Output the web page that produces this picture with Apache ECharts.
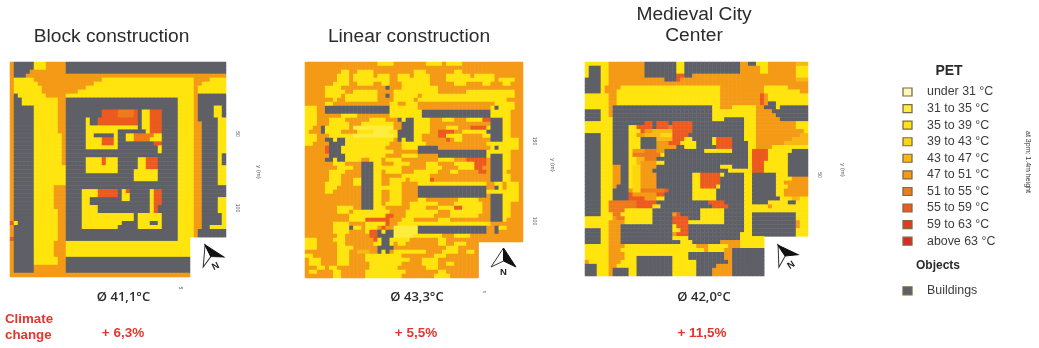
<!DOCTYPE html>
<html>
<head>
<meta charset="utf-8">
<style>html,body{margin:0;background:#fff}#main{width:1039px;height:348px}#main canvas{filter:blur(.5px)}</style>
<script src="https://cdn.jsdelivr.net/npm/echarts@6/dist/echarts.min.js"></script>
</head>
<body>
<div id="main"></div>
<script>
// PET classes: a..j in legend order, G = building, _ = no data.
// each row is a list of runs: class letter + column where the run ends
const classKeys = 'abcdefghijG';
const legendLabels = ['under 31 °C', '31 to 35 °C', '35 to 39 °C', '39 to 43 °C', '43 to 47 °C', '47 to 51 °C',
  '51 to 55 °C', '55 to 59 °C', '59 to 63 °C', 'above 63 °C', '', '', 'Buildings'];
const classColors = ['#fdf6c0', '#feec3e', '#ffe40e', '#fcd70f', '#f8b714', '#f49a17',
  '#ef7a1c', '#ec5a1f', '#e53a20', '#d92a25', '#5f6067'];
const mapTitles = ['Block construction', 'Linear construction', 'Medieval City\nCenter'];
const meanPet = ['Ø 41,1°C', 'Ø 43,3°C', 'Ø 42,0°C'];
const climateChange = ['+ 6,3%', '+ 5,5%', '+ 11,5%'];

const blockRows = [
  'f1 G6 c9 f14 G54',
  'f1 G6 c9 f14 G54',
  'f1 G5 f14 G54',
  'f1 G4 f54',
  'f1 c6 f23 c46 f50 c54',
  'f1 c7 f21 c46 f48 c54',
  'f1 c8 f19 c46 f47 c54',
  'f1 c8 f17 c46 f47 c54',
  'f1 G2 c9 f14 c46 f47 G54',
  'f1 G3 c12 f14 G42 c46 f47 G54',
  'f1 G3 c12 f14 G42 c46 f47 G54',
  'f1 G6 c12 f14 G42 c46 f47 G51 c53 G54',
  'f1 G6 c12 f14 G23 h27 g31 h32 G33 c35 h38 G42 c46 f47 G51 c53 G54',
  'f1 G6 c12 f14 G23 h27 g31 h32 G33 c35 h38 G42 c46 f47 G51 c53 G54',
  'f1 G6 c12 f14 G19 c20 G22 h32 G33 c35 h38 G42 c46 f47 G52 c54',
  'f1 G6 c12 f14 G19 c20 G22 h32 G33 c35 h38 G42 c46 f48 G52 c54',
  'f1 G6 c12 f14 G19 c32 G33 c35 h38 G42 c46 f48 G52 c54',
  'f1 G6 c12 f14 G19 c27 G34 c35 h38 G42 c46 f48 G52 c54',
  'f1 G6 c13 f14 G19 c21 G26 c27 G29 c31 g36 c38 G42 c46 f48 G52 c54',
  'f1 G6 c13 f14 G19 c23 h26 c27 G29 c31 g35 c38 G42 c46 f48 G52 c54',
  'f1 G6 c13 f14 G19 c23 h26 c27 G36 h38 G42 c46 f48 G52 c54',
  'f1 G6 c13 f14 G19 c27 G37 c38 G42 c46 f48 G52 c54',
  'f1 G6 c13 f14 G37 c38 G42 c46 f48 G52 c54',
  'f1 G6 c13 f14 G42 c46 f48 G52 c53 G54',
  'f1 G6 c13 f14 G19 c23 h24 c27 G32 c34 h37 G42 c46 f48 G52 c53 G54',
  'f1 G6 c13 f14 G19 c23 h24 c27 G32 c34 h37 G42 c46 f48 G52 c53 G54',
  'f1 G6 c14 G19 c27 G32 c34 h37 G42 c46 f48 G52 c54',
  'f1 G6 c14 G19 c27 G31 c37 G42 c46 f48 G52 c54',
  'f1 G6 c14 G31 c37 G42 c46 f48 G52 c54',
  'f1 G6 c14 G31 c37 G42 c46 f48 G52 c54',
  'f1 G6 c14 G42 c46 f48 G52 c54',
  'f1 G6 c11 f14 G42 c46 f48 G54',
  'f1 G6 c11 f14 G18 c22 h27 G28 c29 h30 G35 c36 h38 G42 c46 f48 G54',
  'f1 G6 c11 f14 G18 c22 h27 G28 c30 G35 c36 h38 G42 c46 f48 G54',
  'f1 G6 c11 f14 G18 c20 G28 c30 G35 c36 h38 G42 c46 f48 G52 c54',
  'f1 G6 c11 f14 G18 c20 G35 c36 h38 G42 c46 f48 G52 c54',
  'f1 G6 c11 f14 G18 c22 G35 c36 h37 G42 c46 f48 G52 c54',
  'f1 G6 c12 f14 G18 c22 G35 c36 h37 G42 c46 f48 G52 c54',
  'f1 G6 c12 f14 G18 c31 G32 c38 G42 c46 f48 G53 c54',
  'f1 G6 c12 f14 G18 c31 G32 c38 G42 c46 f48 G53 c54',
  'h1 c2 G6 c12 f14 G18 c28 G32 c35 G37 c38 G42 c46 f48 G53 c54',
  'f1 G6 c12 f14 G18 c27 G32 c38 G42 c46 f48 G50 c54',
  'f1 G6 c12 f14 G42 c46 f47 G54',
  'f1 G6 c12 f14 G42 c46 f47 G54',
  'h1 G6 c12 f14 G42 c45 _54',
  'f1 G6 c11 f14 c45 _54',
  'f1 G6 c11 f14 c45 _54',
  'f1 G6 c11 f14 c45 _54',
  'f1 G6 c11 f14 c45 _54',
  'f1 G6 c12 f14 G45 _54',
  'f1 G6 c12 f14 G45 _54',
  'f1 G6 f14 G45 _54',
  'f1 G6 f14 G45 _54',
  'f45 _54'
];

const linearRows = [
  'f18 c22 f30 c34 f35 c39 f54',
  'f54',
  'f9 c11 f13 c17 f27 c30 f37 c39 f54',
  'f8 c11 f12 c17 f18 c21 f23 c26 f27 c31 f35 c41 f42 c47 f54',
  'f8 c11 f12 c21 f23 c31 f35 c47 f48 c52 f54',
  'f7 c11 f13 c17 f19 c21 f24 c31 f37 c40 f44 c46 f49 c51 f54',
  'f5 c9 f20 G21 f24 c33 f54',
  'f5 c10 f12 c18 f22 c33 f40 c52 f54',
  'f5 c9 f10 c18 f20 G21 f22 c28 f29 c52 f54',
  'f7 c8 f10 c18 f22 c27 f28 c50 f54',
  'f5 c7 f21 c23 f25 c28 f47 c52 f54',
  'c3 f5 G21 c28 f46 c47 G48 c52 f54',
  'c3 f5 G21 c29 G46 c51 f54',
  'c3 f9 c13 f21 c29 G46 c51 f54',
  'c3 f6 c10 f16 c20 f23 G24 c25 G27 c31 f34 c37 f40 c44 h46 G49 c51 f54',
  'c3 f6 c11 f14 c22 f24 G27 c31 f46 G49 c51 f54',
  'c2 f4 G5 c11 f12 b22 f24 G27 c31 f35 c38 f41 h45 c46 G49 c51 f54',
  'c1 f4 G5 c9 f13 c17 b21 c23 G27 c31 f33 h37 f39 c45 G49 c51 f54',
  'c3 f6 c12 b22 c23 G27 c29 f33 h35 c39 f44 c46 G49 c51 f54',
  'c3 f5 G7 c8 G10 c22 f23 G24 c25 G27 c29 f35 h36 f37 c39 f46 G49 c53 f54',
  'c2 f6 G10 c21 f24 c30 f45 c53 f54',
  'f5 h6 G9 c20 f24 c28 G33 f46 c47 G48 c53 f54',
  'f5 h6 G9 c22 f28 G45 c51 f54',
  'f6 G10 c20 f24 c28 f33 G45 c46 G49 c51 f54',
  'f5 G7 c8 G10 c14 f16 c19 f20 c24 f33 c37 f40 h45 f46 G49 c51 f54',
  'f7 c10 f14 G17 c19 f22 c26 f30 c33 f37 c42 h45 f46 G49 c51 f54',
  'f8 c12 f14 G17 c24 f30 c34 f38 c42 h44 f46 G49 c51 f54',
  'f6 c10 f14 G17 c19 f20 c24 f27 c33 f36 c38 f43 h45 f46 G49 c50 f54',
  'f6 c9 f14 G17 c19 f24 c31 f46 G49 c51 f54',
  'f6 c9 f12 c14 G17 c19 f21 c25 f26 c31 h32 f46 G49 c51 f54',
  'f5 c9 f12 c14 G17 c19 f21 c24 f28 c45 f47 c49 f50 c53 f54',
  'f5 c8 f14 G17 c24 f28 G45 f47 G48 c49 f50 c53 f54',
  'f5 c7 f14 G17 c19 f21 c24 f28 G45 c53 f54',
  'f14 G17 c19 f21 c24 f28 G45 f46 G49 c53 f54',
  'f14 G17 c19 f21 c24 f28 c30 f38 c43 f46 G49 c53 f54',
  'f14 G17 c19 f20 c24 f26 c33 f37 c44 f46 G49 c51 f54',
  'f8 c12 f14 G17 c20 f26 c30 f33 c37 h39 c44 f46 G49 c51 f54',
  'f8 c11 f12 c21 f25 c33 f36 c44 f46 G49 c51 f54',
  'f11 c20 h22 f25 c32 f36 c43 f46 G49 c51 f54',
  'f11 c15 h21 f24 c27 f33 c36 f46 G49 c50 f54',
  'f7 c11 f15 c20 h21 f23 c46 f54',
  'f7 c11 G12 c14 f15 c18 f19 h20 f22 b28 G45 f47 G48 c50 f54',
  'f7 c11 f15 c16 h18 G19 c20 G22 b28 G45 f47 G48 f54',
  'f8 c10 f16 h18 G22 b27 c34 f37 c41 f54',
  'c3 f7 c10 f17 h18 c19 G21 c26 f33 c35 f54',
  'c3 f8 c10 f17 c19 G21 c22 f23 c25 f33 c35 f37 c40 f43 _54',
  'c3 f8 c12 f18 G22 f35 c38 f43 _54',
  'f8 c11 f13 e16 f18 G19 c20 G21 f22 c30 f34 c38 f40 c42 f43 _54',
  'c2 f8 c11 f15 c24 f32 c35 f43 _54',
  'f1 c4 f8 c11 f15 c26 f29 c33 f43 _54',
  'f1 c4 f8 c11 f16 c24 f29 c33 f35 c37 f43 _54',
  'f3 c5 f6 c8 f16 c23 f30 c33 f43 _54',
  'f1 c3 f7 c9 f15 c25 f33 c35 f43 _54',
  'f7 c9 f15 c24 f32 c36 f43 _54'
];

const medievalRows = [
  'c6 f15 G23 c25 G39 f41 G43 c46 f53 e56',
  'c1 G4 c6 f15 G23 c25 G39 f44 c46 f53 c56',
  'c1 G4 c6 f15 G23 c25 G39 f44 c46 f53 c56',
  'c1 G4 c6 f15 G23 h25 G27 f53 c56',
  'G4 c6 f20 G23 h24 f53 e56',
  'G4 c6 f56',
  'G4 c5 f9 c34 f45 c51 f56',
  'G4 c5 f8 c34 f45 c54 f56',
  'c6 f8 c34 f44 h45 f46 c56',
  'c6 f8 c34 f44 h45 f46 c56',
  'c6 f8 c34 f44 h45 f46 G48 c56',
  'c6 f7 G32 c34 f37 c43 f45 G48 c49 G56',
  'G4 c6 f7 G32 c43 f47 G56',
  'G4 c6 f7 G32 c43 f48 G56',
  'G4 c7 G32 c35 G40 c43 f49 G56',
  'c7 G15 h17 G18 h21 G22 h27 G40 c43 f53 c56',
  'c7 G11 c13 h17 G18 h21 g22 h27 G40 c43 f53 c56',
  'c7 G11 c14 h15 f17 e22 h27 G40 c43 f55 c56',
  'G4 c7 G11 c13 f15 e19 d22 h26 G40 c43 f54 e56',
  'G4 c7 G11 c14 G18 e22 h25 c27 G32 c33 h37 G40 c43 f52 e56',
  'G4 c7 G11 c14 G18 f21 h24 c28 G32 c33 h37 G41 c43 f50 e56',
  'G4 c7 G11 c14 G18 f23 G25 c28 G33 h37 G41 c43 f47 c56',
  'G4 c7 G11 c12 f15 g18 f20 G30 c37 G41 c42 h46 c52 G56',
  'G4 c7 G11 c12 g19 c20 G41 c42 h46 c51 G56',
  'G4 c7 G11 c13 e15 g18 G41 c42 h46 c51 G56',
  'G4 c7 G11 c13 e14 f18 c20 G41 c42 h45 c51 G56',
  'G4 c7 f9 G11 c12 d14 f18 G34 c37 G41 c42 h45 c51 G56',
  'G4 c7 f9 G11 c12 d14 f17 G36 c42 h45 c51 G56',
  'G4 c7 f9 G11 c12 d14 f18 G27 c29 h34 c35 G40 c42 G48 c51 G56',
  'G4 c7 f9 G11 c12 d14 f18 G27 c29 h34 G40 c42 G48 c52 f56',
  'G4 c7 f9 G11 c12 d14 f18 G27 c29 h34 G40 c42 G48 c50 f56',
  'G4 c7 f8 G11 c12 d14 f18 G27 c29 h33 c34 G40 c42 G48 c51 f56',
  'G4 c7 G11 f12 d14 g20 h21 G27 c33 G40 c42 G48 c50 f56',
  'G4 c7 G11 h12 f18 h20 G27 c33 G40 c42 G48 c50 f56',
  'G4 c7 G11 h15 f18 c20 G27 c33 G40 c42 G49 c52 e54 c56',
  'G4 c6 g13 h18 G31 h35 G40 c42 G46 c51 G53 c56',
  'G4 c6 g13 h17 c19 G32 h36 G40 c46 f47 c56',
  'G4 c6 g10 c17 G29 c35 G40 c56',
  'G4 c7 g9 c17 G22 f23 h24 G29 c35 G40 c42 G53 c56',
  'c7 f8 g10 c17 G22 h26 G29 c35 G40 c42 G53 c56',
  'c6 f10 c17 G22 h26 c35 G40 c42 G53 f54 c56',
  'c6 f9 G22 c23 h26 G40 c42 G53 f54 c56',
  'G4 c6 f9 G22 c24 h26 G40 c42 G53 c56',
  'G4 c6 f9 G22 f23 h26 G39 c42 G53 c56',
  'G4 c6 f9 G22 c26 G39 c45 _56',
  'G4 c6 f9 G24 c27 G34 f39 c45 _56',
  'c6 f10 c28 f31 c36 f39 c45 _56',
  'c6 f9 c30 f31 c35 f37 G45 _56',
  'c6 f10 c26 G35 f37 G45 _56',
  'c6 f10 c13 G22 c26 G35 f37 G45 _56',
  'f1 c6 f9 c13 G22 c28 G36 f37 G45 _56',
  'G3 c6 f8 c13 G22 c28 G33 f37 G45 _56',
  'G3 c6 f7 G11 c13 G22 c28 G32 f37 G45 _56',
  'G3 c6 f7 G11 c13 G22 c28 G32 f37 G45 _56'
];

var chartDom = document.getElementById('main');
var myChart = echarts.init(chartDom);

// expand the run lists to heatmap cells [col, row, classIndex]
function toCells(rows) {
  const cells = [];
  rows.forEach((row, r) => {
    let col = 0;
    row.split(' ').forEach(run => {
      const end = parseInt(run.slice(1), 10);
      const k = classKeys.indexOf(run[0]);
      for (; col < end; col++) {
        if (k >= 0) cells.push([col, r, k]);
      }
    });
  });
  return cells;
}

function indexList(n) {
  const out = [];
  for (let i = 0; i < n; i++) out.push(String(i));
  return out;
}

const maps = [blockRows, linearRows, medievalRows];
const mapCols = [54, 54, 56];
const mapBoxes = [
  { left: 10, top: 62, width: 216, height: 215 },
  { left: 305, top: 62, width: 218, height: 216 },
  { left: 585, top: 62, width: 223, height: 214 }
];

const grids = mapBoxes.slice();
const xAxes = maps.map((m, i) => ({ type: 'category', gridIndex: i, show: false, data: indexList(mapCols[i]) }));
const yAxes = maps.map((m, i) => ({ type: 'category', gridIndex: i, show: false, inverse: true, data: indexList(m.length) }));
const series = maps.map((m, i) => ({
  type: 'heatmap',
  xAxisIndex: i,
  yAxisIndex: i,
  data: toCells(m),
  progressive: 0,
  emphasis: { disabled: true }
}));

// legend column is a fourth grid, swatches are rect symbols
grids.push({ left: 900.5, top: 83.7, width: 14, height: 215.5 });
xAxes.push({ type: 'category', gridIndex: 3, show: false, data: ['swatch'] });
yAxes.push({
  type: 'category',
  gridIndex: 3,
  inverse: true,
  position: 'right',
  data: legendLabels,
  axisLine: { show: false },
  axisTick: { show: false },
  axisLabel: { margin: 12.5, color: '#3c3c3c', fontSize: 12.4, fontFamily: 'Liberation Sans' }
});
const swatches = [];
legendLabels.forEach((name, i) => {
  if (name === '') return;
  const k = i < 10 ? i : 10;
  swatches.push({ value: [0, i], itemStyle: { color: classColors[k] } });
});
series.push({
  type: 'scatter',
  xAxisIndex: 3,
  yAxisIndex: 3,
  symbol: 'rect',
  symbolSize: [9, 8],
  itemStyle: { borderColor: '#7a6a45', borderWidth: 1.2, opacity: 1 },
  data: swatches
});

function label(text, x, y, size, extra) {
  return {
    type: 'text',
    x: x,
    y: y,
    rotation: (extra && extra.rotation) || 0,
    style: {
      text: text,
      fontSize: size,
      fontFamily: (extra && extra.family) || 'Liberation Sans',
      fontWeight: (extra && extra.weight) || 'normal',
      fill: (extra && extra.color) || '#2b2b2b',
      align: (extra && extra.align) || 'center',
      verticalAlign: 'middle',
      lineHeight: (extra && extra.lineHeight) || undefined
    }
  };
}

// north arrow: origin at the middle of its base
function northArrow(x, y, rot, half, height) {
  return {
    type: 'group',
    x: x,
    y: y,
    rotation: rot,
    children: [
      { type: 'polygon', shape: { points: [[0, -height], [-half, 0], [0, -6]] }, style: { fill: '#fff', stroke: '#333', lineWidth: 1 } },
      { type: 'polygon', shape: { points: [[0, -height], [half, 0], [0, -6]] }, style: { fill: '#111', stroke: '#111', lineWidth: 1 } },
      { type: 'text', x: 0, y: 5, style: { text: 'N', fontSize: 9.5, fontWeight: 'bold', fontFamily: 'Liberation Sans', fill: '#222', align: 'center', verticalAlign: 'middle' } }
    ]
  };
}

const red = '#e8342b';
const quarter = -Math.PI / 2;
const tiny = { rotation: quarter, color: '#555', family: 'Liberation Sans' };
const meanStyle = { family: 'Open Sans', weight: 600 };

var option = {
  animation: false,
  backgroundColor: '#fff',
  grid: grids,
  xAxis: xAxes,
  yAxis: yAxes,
  visualMap: {
    type: 'piecewise',
    show: false,
    seriesIndex: [0, 1, 2],
    dimension: 2,
    pieces: classColors.map((c, i) => ({ value: i, color: c }))
  },
  series: series,
  graphic: [
    label(mapTitles[0], 111.5, 37, 19.2),
    label(mapTitles[1], 409, 37, 19.2),
    label(mapTitles[2], 694, 25.5, 19.2, { lineHeight: 21 }),
    label(meanPet[0], 123.5, 297, 13, meanStyle),
    label(meanPet[1], 417, 297, 13, meanStyle),
    label(meanPet[2], 704, 297, 13, meanStyle),
    label('Climate\nchange', 5, 327, 13.3, { color: red, weight: 'bold', align: 'left', lineHeight: 16 }),
    label(climateChange[0], 123, 333, 13.5, { color: red, weight: 'bold' }),
    label(climateChange[1], 416, 333, 13.5, { color: red, weight: 'bold' }),
    label(climateChange[2], 702, 333, 13.5, { color: red, weight: 'bold' }),
    label('PET', 949, 71, 14, { weight: 'bold' }),
    label('Objects', 938, 266, 12, { weight: 'bold' }),
    label('at 3pm; 1.4m height', 1028, 162, 7, { rotation: quarter, color: '#333' }),
    label('50', 237, 134, 5, tiny),
    label('100', 237, 208, 5, tiny),
    label('y (m)', 259, 172, 6, tiny),
    label('150', 534, 141, 5, tiny),
    label('100', 534, 221, 5, tiny),
    label('y (m)', 553, 165, 6, tiny),
    label('50', 819, 175, 5, tiny),
    label('y (m)', 843, 170, 6, tiny),
    label('5', 180, 288, 5, tiny),
    label('5', 484, 292, 4, tiny),
    northArrow(213.5, 262, 0.46, 11.5, 19),
    northArrow(503.5, 267, 0, 12.5, 19),
    northArrow(788.5, 261, 0.58, 11.5, 19)
  ]
};

option && myChart.setOption(option);
</script>
</body>
</html>
